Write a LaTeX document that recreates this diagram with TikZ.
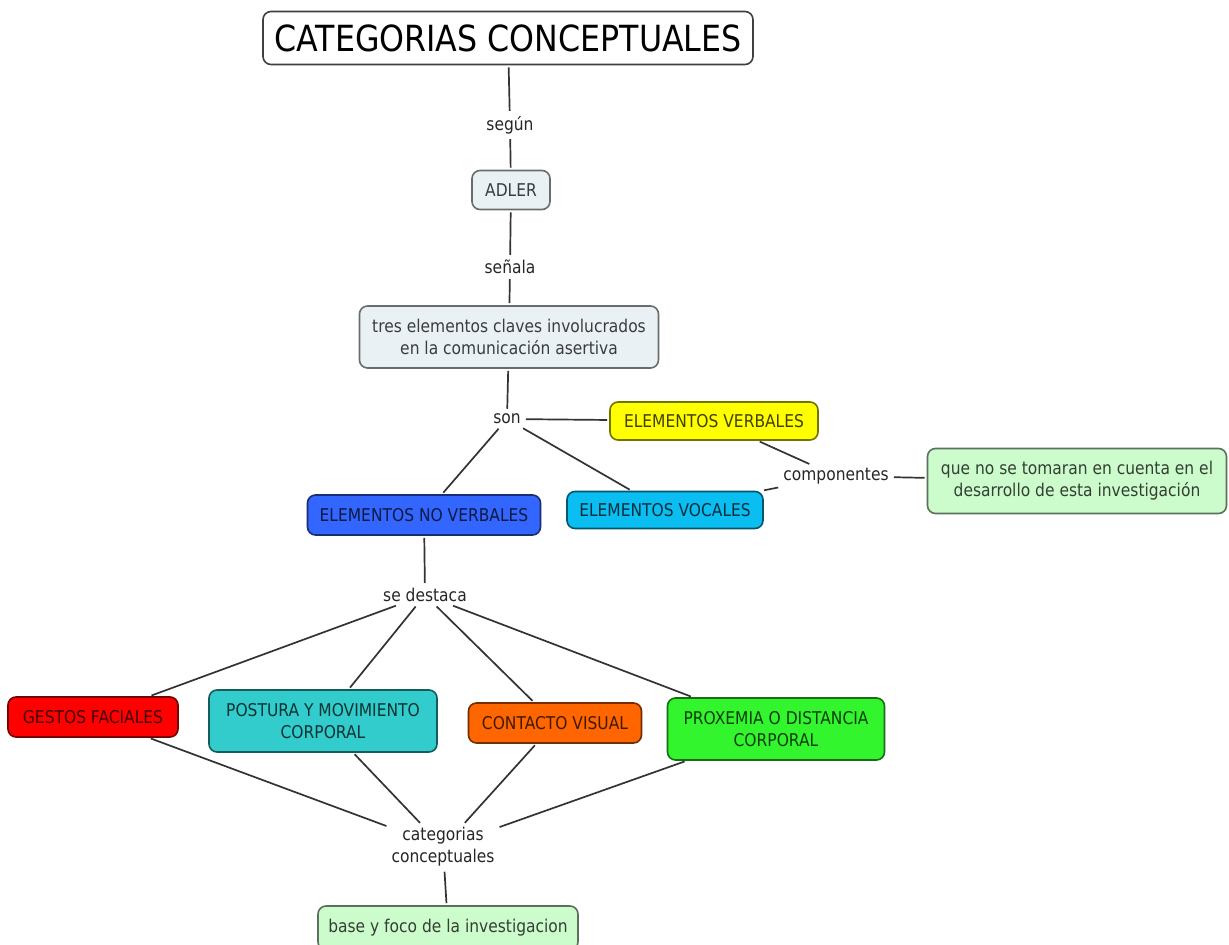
\documentclass[tikz,border=0pt]{standalone}
\usepackage{fontspec}
\setmainfont{DejaVu Sans}[FakeStretch=0.88]
\definecolor{gris}{HTML}{EAF1F4}
\definecolor{amarillo}{HTML}{FFFF00}
\definecolor{celeste}{HTML}{0ABEF2}
\definecolor{azul}{HTML}{3366FF}
\definecolor{rojo}{HTML}{FF0000}
\definecolor{turquesa}{HTML}{33CCCC}
\definecolor{naranja}{HTML}{FF6600}
\definecolor{verde}{HTML}{33F52E}
\definecolor{verdeclaro}{HTML}{CCFCCC}
\begin{document}
\begin{tikzpicture}[x=1pt, y=-1pt, concept/.style={rectangle, rounded corners=8pt, draw=#1!45!black, fill=#1, text=#1!25!black, align=center, inner sep=0pt, line width=1.6pt},link word/.style={inner sep=3pt, text=black!85, align=center},link/.style={draw=black!80, line width=1.7pt, shorten >=2pt, shorten <=2pt}]%
\fill[white] (0,0) rectangle (1229,945);
\useasboundingbox (0,0) rectangle (1229,945);
\begin{scope}[every node/.style={font=\fontsize{17.6}{22}\selectfont}]
\node[concept=white, draw=black!75, text=black, minimum width=490pt, minimum height=53pt, font=\fontsize{36}{40}\selectfont] (titulo) at (508,38) {CATEGORIAS CONCEPTUALES};
\node[link word] (segun) at (510,125) {según};
\node[concept=gris, minimum width=78pt, minimum height=39pt] (adler) at (511,190) {ADLER};
\node[link word] (senala) at (510,267) {señala};
\node[concept=gris, minimum width=299pt, minimum height=62pt] (tres) at (509,337) {tres elementos claves involucrados\\ en la comunicación asertiva};
\node[link word] (son) at (507,419) {son};
\node[concept=amarillo, minimum width=208pt, minimum height=38pt] (verbales) at (714,421) {ELEMENTOS VERBALES};
\node[link word] (comp) at (836,476) {componentes};
\node[concept=verdeclaro, minimum width=299pt, minimum height=65pt] (queno) at (1077,481) {que no se tomaran en cuenta en el\\ desarrollo de esta investigación};
\node[concept=celeste, minimum width=196pt, minimum height=37pt] (vocales) at (665,510) {ELEMENTOS VOCALES};
\node[concept=azul, minimum width=233pt, minimum height=40pt] (noverbales) at (424,515) {ELEMENTOS NO VERBALES};
\node[link word] (destaca) at (425,595) {se destaca};
\node[concept=rojo, minimum width=170pt, minimum height=40pt] (gestos) at (93,717) {GESTOS FACIALES};
\node[concept=turquesa, minimum width=228pt, minimum height=62pt] (postura) at (323,721) {POSTURA Y MOVIMIENTO\\ CORPORAL};
\node[concept=naranja, minimum width=173pt, minimum height=40pt] (contacto) at (555,723) {CONTACTO VISUAL};
\node[concept=verde, minimum width=217pt, minimum height=62pt] (proxemia) at (776,729) {PROXEMIA O DISTANCIA\\ CORPORAL};
\node[link word] (categ) at (443,847) {categorias\\ conceptuales};
\node[concept=verdeclaro, minimum width=260pt, minimum height=44pt] (base) at (448,928) {base y foco de la investigacion};
\end{scope}
\begin{scope}
\foreach \a/\b in {titulo/segun, segun/adler, adler/senala, senala/tres, tres/son, son/verbales, son/noverbales, son/vocales, verbales/comp, comp/vocales, comp/queno, noverbales/destaca, destaca/gestos, destaca/postura, destaca/contacto, destaca/proxemia, gestos/categ, postura/categ, contacto/categ, proxemia/categ, categ/base}
  \draw[link] (\a) -- (\b);
\end{scope}
\end{tikzpicture}
\end{document}
